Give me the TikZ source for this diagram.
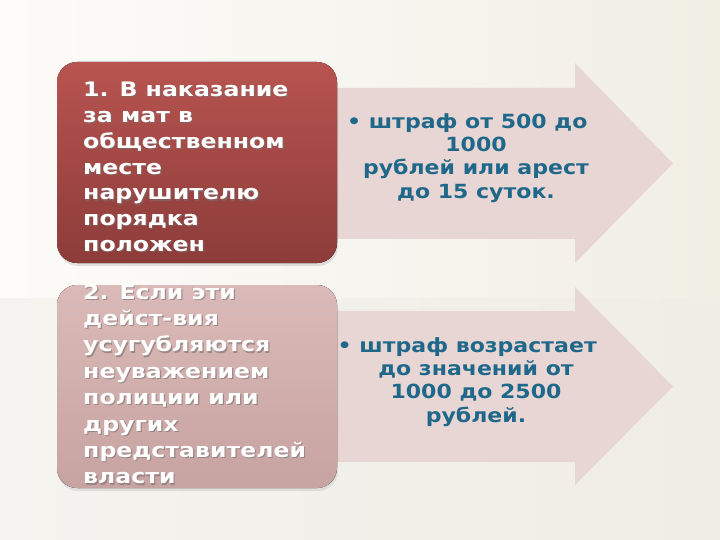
\documentclass[tikz,border=0pt]{standalone}
\usepackage{fontspec}
\setmainfont{DejaVu Sans}
\newfontfamily\lefttxt{DejaVu Sans}[FakeStretch=1.18]
\newfontfamily\righttxt{DejaVu Sans}[FakeStretch=1.13]
\definecolor{bgL}{RGB}{253,252,250}
\definecolor{bgR}{RGB}{241,238,228}
\definecolor{bandL}{RGB}{244,243,239}
\definecolor{bandR}{RGB}{240,237,228}
\definecolor{boxAtop}{RGB}{184,84,80}
\definecolor{boxAbot}{RGB}{140,60,58}
\definecolor{boxBtop}{RGB}{218,186,184}
\definecolor{boxBbot}{RGB}{199,163,161}
\definecolor{arrowfill}{RGB}{232,214,213}
\definecolor{bluetxt}{RGB}{31,104,138}
\definecolor{shadowtxt}{RGB}{120,110,110}
\tikzset{
  arrowshape/.style={fill=arrowfill},
  leftbox/.style={rounded corners=20bp},
  lefttext/.style={anchor=north west, inner sep=0pt, align=left, text=white,
    font=\lefttxt\bfseries\fontsize{20bp}{25.8bp}\selectfont},
  lefttextb/.style={lefttext, font=\lefttxt\bfseries\fontsize{20bp}{26.4bp}\selectfont},
  leftshadow/.style={lefttext, text=shadowtxt, opacity=0.6},
  leftshadowb/.style={lefttextb, text=shadowtxt, opacity=0.6},
  righttext/.style={anchor=north, inner sep=0pt, align=center, text=bluetxt,
    font=\righttxt\bfseries\fontsize{19.5bp}{23.2bp}\selectfont}
}
\begin{document}
\begin{tikzpicture}[x=1bp,y=-1bp]
\useasboundingbox (0,0) rectangle (720,540);
% background
\fill[left color=bgL, right color=bgR] (0,0) rectangle (720,298);
\fill[left color=bandL, right color=bandR] (0,298) rectangle (720,540);
% arrows
\fill[arrowshape] (330,88) -- (575,88) -- (575,63) -- (673,163.5) -- (575,263) -- (575,239) -- (330,239) -- cycle;
\fill[arrowshape] (330,311) -- (575,311) -- (575,287) -- (673,386.5) -- (575,485) -- (575,462) -- (330,462) -- cycle;
% boxes
\fill[leftbox, black, opacity=0.10] (58,65) rectangle (338,266);
\fill[leftbox, top color=boxAtop, bottom color=boxAbot] (57,62) rectangle (337,263);
\fill[leftbox, black, opacity=0.08] (58,288) rectangle (338,491);
\fill[leftbox, top color=boxBtop, bottom color=boxBbot] (57,285) rectangle (337,488);
% left texts
\node[leftshadow] (t1s) at (84.2,83.2) {1. В наказание\\за мат в\\общественном\\месте\\нарушителю\\порядка\\положен};
\node[lefttext] (t1) at (83,82) {1. В наказание\\за мат в\\общественном\\месте\\нарушителю\\порядка\\положен};
\node[leftshadowb] (t2s) at (84.2,285.2) {2. Если эти\\дейст-вия\\усугубляются\\неуважением\\полиции или\\других\\представителей\\власти};
\node[lefttextb] (t2) at (83,284) {2. Если эти\\дейст-вия\\усугубляются\\неуважением\\полиции или\\других\\представителей\\власти};
% right texts
\node[righttext] (r1) at (476,113.5) {• штраф от 500 до\hspace*{0.9em}\\1000\\рублей или арест\\до 15 суток.};
\node[righttext] (r2) at (476,337.5) {• штраф возрастает\hspace*{0.9em}\\до значений от\\1000 до 2500\\рублей.};
\end{tikzpicture}
\end{document}
